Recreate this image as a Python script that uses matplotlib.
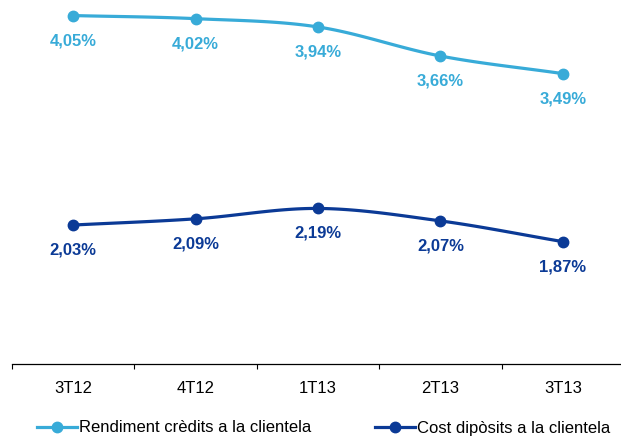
import numpy as np
import matplotlib
matplotlib.use("Agg")
import matplotlib.pyplot as plt

quarters = ["3T12", "4T12", "1T13", "2T13", "3T13"]
rendiment = [4.05, 4.02, 3.94, 3.66, 3.49]
cost = [2.03, 2.09, 2.19, 2.07, 1.87]

light_blue = "#38abd8"
dark_blue = "#0b3a96"

plt.rcParams["font.family"] = ["Liberation Sans", "DejaVu Sans"]


def smooth(xs, ys, n=30):
    # Catmull-Rom style smoothing, like Excel's smoothed lines
    xs = np.asarray(xs, float)
    ys = np.asarray(ys, float)
    px = np.concatenate([[2 * xs[0] - xs[1]], xs, [2 * xs[-1] - xs[-2]]])
    py = np.concatenate([[2 * ys[0] - ys[1]], ys, [2 * ys[-1] - ys[-2]]])
    out_x, out_y = [], []
    t = np.linspace(0, 1, n)
    for i in range(1, len(px) - 2):
        for p, out in ((px, out_x), (py, out_y)):
            p0, p1, p2, p3 = p[i - 1], p[i], p[i + 1], p[i + 2]
            out.extend(0.5 * ((2 * p1) + (-p0 + p2) * t
                              + (2 * p0 - 5 * p1 + 4 * p2 - p3) * t ** 2
                              + (-p0 + 3 * p1 - 3 * p2 + p3) * t ** 3))
    return out_x, out_y


fig = plt.figure(figsize=(6.21, 4.37), dpi=100)
ax = fig.add_axes([12 / 621, 73 / 437, 612 / 621, 364 / 437])

x = np.arange(len(quarters)) + 0.5
series = [
    ("Rendiment crèdits a la clientela", rendiment, light_blue),
    ("Cost dipòsits a la clientela", cost, dark_blue),
]
handles = []
for name, vals, color in series:
    sx, sy = smooth(x, vals)
    ax.plot(sx, sy, color=color, lw=2.3, solid_capstyle="round", zorder=2)
    ax.plot(x, vals, "o", color=color, ms=7.5, zorder=3)
    h, = ax.plot([], [], "-o", color=color, lw=2.3, ms=7.5, label=name)
    handles.append(h)
    for xi, v in zip(x, vals):
        ax.annotate(f"{v:.2f}%".replace(".", ","), (xi, v),
                    xytext=(0, -18), textcoords="offset points",
                    ha="center", va="center", fontsize=12,
                    fontweight="bold", color=color)

ax.set_xlim(0, 5)
ax.set_ylim(0.69, 4.20)
ax.set_xticks(np.arange(0, 6))
ax.set_xticklabels([])
ax.set_xticks(x, minor=True)
ax.set_xticklabels(quarters, minor=True, fontsize=12)
ax.tick_params(axis="x", which="major", length=3.5, width=0.8, direction="out")
ax.tick_params(axis="x", which="minor", length=0, pad=12)
ax.set_yticks([])
for side in ["top", "right", "left"]:
    ax.spines[side].set_visible(False)
ax.spines["bottom"].set_linewidth(0.9)

fig.legend(handles=handles, loc="center", bbox_to_anchor=(0.521, 9 / 437),
           ncol=2, frameon=False, fontsize=12, handlelength=2.4,
           handletextpad=0.15, columnspacing=3.8, borderpad=0)

fig.savefig("out.png", dpi=100)
